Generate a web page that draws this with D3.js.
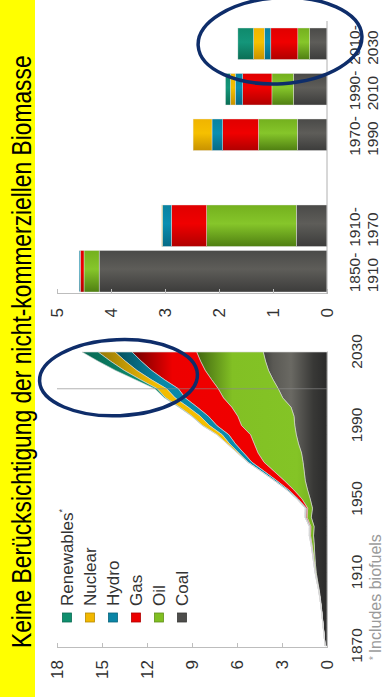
<!DOCTYPE html>
<html><head><meta charset="utf-8">
<script src="https://cdn.jsdelivr.net/npm/d3@7"></script>
<style>
body{margin:0;background:#fff;}
svg{display:block;font-family:"Liberation Sans",Arial,sans-serif;}
</style>
</head><body>
<svg id="chart" width="385" height="697"></svg>
<script>
// ---------------- DATA ----------------
const titleText = "Keine Berücksichtigung der nicht-kommerziellen Biomasse";
const footnoteText = "Includes biofuels";
const seriesKeys = ["Coal", "Oil", "Gas", "Hydro", "Nuclear", "Renewables"];
const legendLabels = ["Renewables", "Nuclear", "Hydro", "Gas", "Oil", "Coal"];

// Left chart: world primary energy (stacked), by year
const years = [1870,1875,1880,1885,1890,1895,1900,1905,1910,1915,1920,1925,1930,1935,1940,1945,1950,
               1955,1960,1965,1970,1975,1980,1985,1990,1995,2000,2005,2010,2015,2020,2025,2030];
const coal = [0.13,0.18,0.24,0.30,0.36,0.43,0.51,0.62,0.72,0.78,0.82,0.85,0.90,0.86,1.05,0.97,1.12,
              1.30,1.45,1.52,1.60,1.70,1.90,2.05,2.15,2.20,2.40,2.95,3.25,3.60,3.90,4.10,4.25];
const oil = [0,0.005,0.01,0.01,0.015,0.02,0.03,0.04,0.05,0.07,0.10,0.15,0.20,0.22,0.28,0.32,0.55,
             0.92,1.40,2.00,2.60,2.90,2.95,3.05,3.55,3.75,3.95,3.95,4.00,4.10,4.22,4.33,4.44];
const gas = [0,0,0,0.002,0.004,0.006,0.008,0.01,0.015,0.02,0.025,0.03,0.04,0.05,0.07,0.09,0.25,
             0.35,0.50,0.65,0.80,0.95,1.25,1.45,1.65,1.95,2.30,2.55,2.66,3.15,3.57,3.95,4.31];
const hydro = [0,0,0,0,0,0,0.004,0.006,0.01,0.015,0.02,0.03,0.04,0.045,0.06,0.065,0.08,
               0.12,0.16,0.21,0.27,0.33,0.39,0.44,0.49,0.55,0.60,0.67,0.78,0.88,0.98,1.06,1.13];
const nuclear = [0,0,0,0,0,0,0,0,0,0,0,0,0,0,0,0,0,
                 0,0.001,0.006,0.02,0.09,0.16,0.34,0.45,0.53,0.58,0.63,0.63,0.72,0.85,0.99,1.13];
const renewables = [0,0,0,0,0,0,0,0,0,0,0,0,0,0,0,0,0,
                    0,0,0,0,0,0,0.01,0.03,0.04,0.05,0.08,0.16,0.35,0.58,0.83,1.07];
const areaYTicks = [0,3,6,9,12,15,18];
const areaXTicks = [1870,1910,1950,1990,2030];
const forecastYear = 2010;

// Right chart: contribution to growth by period
const periods = ["1850-1910","1910-1970","1970-1990","1990-2010","2010-2030"];
const barCoal       = [4.22,0.57,0.55,0.62,0.32];
const barOil        = [0.28,1.66,0.72,0.40,0.22];
const barGas        = [0.07,0.65,0.66,0.54,0.50];
const barHydro      = [0.02,0.17,0.20,0.14,0.12];
const barNuclear    = [0.00,0.01,0.35,0.09,0.20];
const barRenewables = [0.00,0.00,0.00,0.09,0.29];
const barTicks = [0,1,2,3,4,5];

// Highlight ellipses (annotation anchors in data units)
const areaHighlight = {year: 2016, value: 13.9};
const barHighlight = {period: "2010-2030", value: 0.87};

// ---------------- STYLE ----------------
const W = 697, H = 385;           // unrotated drawing size
const colors = {Coal:"#4d4d4b", Oil:"#80bf22", Gas:"#ec0000", Hydro:"#0a85a6", Nuclear:"#f2b800", Renewables:"#0f8f6e"};
const areaStops = {
  Coal:[[0,"#2a2a2a"],[0.9,"#383836"],[2.4,"#6a6963"],[3.6,"#5a5954"],[4.4,"#3a3a39"]],
  Oil:[[0,"#6da31b"],[2,"#84c426"],[6.3,"#82c024"],[8.8,"#3e6210"]],
  Gas:[[0,"#f20000"],[10.3,"#ee0000"],[12.8,"#780000"]],
  Hydro:[[0,"#0a90b2"],[11,"#0a88a8"],[14,"#05505e"]],
  Nuclear:[[0,"#f8c600"],[11.5,"#f2bc00"],[15,"#9a7c08"]],
  Renewables:[[0,"#10a078"],[12,"#0e9070"],[16,"#086a55"]]
};
const barShade = {
  Coal:["#3c3c3b","#5e5d59","#4a4a48"], Oil:["#4f7f12","#86c62a","#74b01e"],
  Gas:["#b00000","#f00000","#e00000"], Hydro:["#066a85","#0b8fb0","#0a82a0"],
  Nuclear:["#c89200","#f6c000","#f0b400"], Renewables:["#0a6e55","#14967a","#0f8a6c"]
};

const svg = d3.select("#chart");
const defs = svg.append("defs");
const g = svg.append("g").attr("transform", `translate(0,697) rotate(-90)`);

// Title band
g.append("rect").attr("x",0).attr("y",0).attr("width",W).attr("height",35).attr("fill","#ffff00");
const title = g.append("text").attr("font-size",27).attr("fill","#000").text(titleText);
const natural = title.node().getComputedTextLength();
title.attr("transform",`translate(49,31) scale(${593/natural},1)`);

// ---------------- AREA CHART ----------------
const x = d3.scaleLinear().domain([1870,2030]).range([51,345]);
const y = d3.scaleLinear().domain([0,18]).range([327,57]);

const rows = years.map((yr,i)=>({year:yr, Coal:coal[i], Oil:oil[i], Gas:gas[i], Hydro:hydro[i], Nuclear:nuclear[i], Renewables:renewables[i]}));
const stacked = d3.stack().keys(seriesKeys)(rows);

seriesKeys.forEach(k=>{
  const lg = defs.append("linearGradient").attr("id","ag-"+k).attr("gradientUnits","userSpaceOnUse")
    .attr("x1",0).attr("x2",0).attr("y1",y(0)).attr("y2",y(18));
  areaStops[k].forEach(([v,c])=>lg.append("stop").attr("offset",v/18).attr("stop-color",c));
  const bg = defs.append("linearGradient").attr("id","bg-"+k).attr("x1",0).attr("x2",1).attr("y1",0).attr("y2",0);
  bg.append("stop").attr("offset",0).attr("stop-color",barShade[k][0]);
  bg.append("stop").attr("offset",0.55).attr("stop-color",barShade[k][1]);
  bg.append("stop").attr("offset",1).attr("stop-color",barShade[k][2]);
});

const area = d3.area().x(d=>x(d.data.year)).y0(d=>y(d[0])).y1(d=>y(d[1]));
g.append("g").selectAll("path").data(stacked).join("path")
  .attr("d",area).attr("fill",d=>`url(#ag-${d.key})`)
  .attr("stroke","#d8d8d8").attr("stroke-width",0.6).attr("stroke-linejoin","round");

// forecast divider
g.append("line").attr("x1",x(forecastYear)).attr("x2",x(forecastYear)).attr("y1",y(18)).attr("y2",y(0))
  .attr("stroke","#8a8a8a").attr("stroke-opacity",0.65).attr("stroke-width",1);

// axes
const yAx = g.append("g").attr("transform","translate(49,0)")
  .call(d3.axisLeft(y).tickValues(areaYTicks).tickSizeInner(-5).tickSizeOuter(0).tickPadding(12));
const xAx = g.append("g").attr("transform",`translate(0,${y(0)})`)
  .call(d3.axisBottom(x).tickValues(areaXTicks).tickFormat(d3.format("d")).tickSize(0).tickPadding(24));

// legend
const lgG = g.append("g");
legendLabels.forEach((k,i)=>{
  const cy = 67 + i*23;
  lgG.append("rect").attr("x",75).attr("y",cy-4.5).attr("width",9).attr("height",9)
    .attr("fill",colors[k]).attr("stroke",d3.color(colors[k]).darker(0.8)).attr("stroke-width",0.8);
  const t = lgG.append("text").attr("x",91).attr("y",cy).attr("dy","0.36em").attr("font-size",17).attr("fill","#333").text(k);
  if(k==="Renewables") t.append("tspan").attr("font-size",9).attr("dy","-0.9em").text("*");
});

// footnote
const fn = g.append("text").attr("x",37).attr("y",381).attr("font-size",16).attr("fill","#9a9a9a");
fn.append("tspan").attr("font-size",10).attr("dy",-4).text("* ");
fn.append("tspan").attr("dy",4).text(footnoteText);

// ---------------- BAR CHART ----------------
const slots = [periods[0], periods[1], "gap", periods[2], periods[3], periods[4]];
const xb = d3.scaleBand().domain(slots).range([403,676]).padding(0);
const yb = d3.scaleLinear().domain([0,5]).range([327,57]);
const barRows = periods.map((p,i)=>({period:p, Coal:barCoal[i], Oil:barOil[i], Gas:barGas[i], Hydro:barHydro[i], Nuclear:barNuclear[i], Renewables:barRenewables[i]}));
const barStack = d3.stack().keys(seriesKeys)(barRows);
const span = p => { const [a,b] = p.split("-").map(Number); return b-a; };
const barW = p => span(p) >= 60 ? 41.5 : 31.5;
const barCx = p => xb(p) + xb.bandwidth()/2;

g.append("g").selectAll("g").data(barStack).join("g").attr("fill",d=>`url(#bg-${d.key})`)
  .selectAll("rect").data(d=>d).join("rect")
  .attr("x",d=>barCx(d.data.period)-barW(d.data.period)/2)
  .attr("width",d=>barW(d.data.period))
  .attr("y",d=>yb(d[1])).attr("height",d=>Math.max(0,yb(d[0])-yb(d[1])))
  .attr("stroke","#e8e8e8").attr("stroke-width",0.4);

g.append("g").attr("transform","translate(403,0)")
  .call(d3.axisLeft(yb).tickValues(barTicks).tickFormat(d3.format("d")).tickSizeInner(-5).tickSizeOuter(0).tickPadding(14));
g.append("line").attr("x1",403).attr("x2",676).attr("y1",yb(0)).attr("y2",yb(0)).attr("stroke","#b0b0b0");

const bl = g.append("g");
periods.forEach(p=>{
  const [a,b] = p.split("-");
  const t = bl.append("text").attr("x",barCx(p)-21).attr("font-size",15.5).attr("fill","#333");
  t.append("tspan").attr("x",barCx(p)-21).attr("y",360).text(a+"-");
  t.append("tspan").attr("x",barCx(p)-21).attr("y",378).text(b);
});

// axis styling
g.selectAll(".domain").attr("stroke","#bdbdbd");
g.selectAll(".tick line").attr("stroke","#bdbdbd");
g.selectAll(".tick text").attr("font-size",17).attr("fill","#333").attr("font-family","'Liberation Sans',Arial,sans-serif");
xAx.selectAll(".tick text").attr("font-size",15.5);

// ---------------- HIGHLIGHT ELLIPSES ----------------
const e1x = x(areaHighlight.year), e1y = y(areaHighlight.value);
g.append("ellipse").attr("cx",e1x).attr("cy",e1y).attr("rx",38).attr("ry",79)
  .attr("transform",`rotate(-2.5,${e1x},${e1y})`)
  .attr("fill","none").attr("stroke","#0e2d6a").attr("stroke-width",3.5);
const e2x = barCx(barHighlight.period)+3, e2y = yb(barHighlight.value);
g.append("ellipse").attr("cx",e2x).attr("cy",e2y).attr("rx",43).attr("ry",82)
  .attr("transform",`rotate(-3.5,${e2x},${e2y})`)
  .attr("fill","none").attr("stroke","#0e2d6a").attr("stroke-width",3.5);
</script>
</body></html>
